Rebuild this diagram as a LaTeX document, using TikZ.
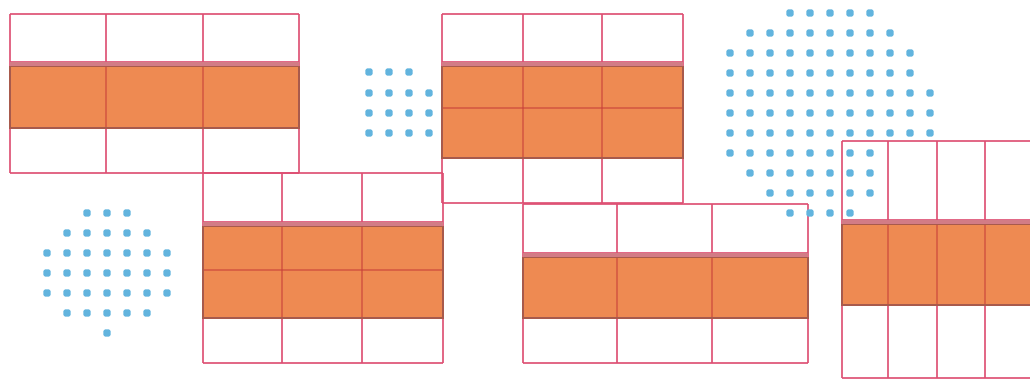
\documentclass[tikz,border=0pt]{standalone}
\definecolor{gridpink}{HTML}{DE4F72}
\definecolor{bandorange}{HTML}{EE8A52}
\definecolor{banddark}{HTML}{A85A4C}
\definecolor{shadepink}{HTML}{D27C86}
\definecolor{innerred}{HTML}{C8403A}
\definecolor{dotblue}{HTML}{62B4DE}
\tikzset{
  gridline/.style={draw=gridpink,line width=1.7pt,opacity=0.85},
  innerline/.style={draw=innerred,line width=1.5pt,opacity=0.55},
  bandfill/.style={fill=bandorange},
  bandedge/.style={draw=banddark,line width=1.4pt},
  bluedot/.style={fill=dotblue,rounded corners=1.5pt}
}
% #1 x-list, #2 left, #3 right, #4 top, #5 band line, #6 orange bottom, #7 bottom, #8 inner horizontal lines (y)
\newcommand{\gpanel}[8]{%
  \foreach \xx in {#1} \draw[gridline] (\xx,#4) -- (\xx,#7);
  \foreach \yy in {#4,#5,#7} \draw[gridline] (#2,\yy) -- (#3,\yy);
  \fill[shadepink] (#2,#5) rectangle (#3,#5+4.5);
  \fill[bandfill] (#2,#5+4.5) rectangle (#3,#6);
  \foreach \xx in {#1} \draw[innerline] (\xx,#5+4.5) -- (\xx,#6);
  \foreach \yy in {#8} \draw[innerline] (#2,\yy) -- (#3,\yy);
  \draw[bandedge] (#2,#5+4.5) rectangle (#3,#6);
}
\newcommand{\dotrow}[2]{% #1 y, #2 x-list
  \foreach \xx in {#2} \fill[bluedot] (\xx-3.6,#1-3.6) rectangle (\xx+3.6,#1+3.6);
}
\begin{document}
\begin{tikzpicture}[x=1pt,y=-1pt]
\useasboundingbox (0,0) rectangle (1030,383);
\fill[white] (0,0) rectangle (1030,383);
\clip (0,0) rectangle (1030,383);

% panel A (top left)
\gpanel{10,106,203,299}{10}{299}{14}{62}{128}{173}{128}
% panel B (top middle)
\gpanel{442,523,602,683}{442}{683}{14}{62}{158}{203}{108}
% panel C (lower left)
\gpanel{203,282,362,443}{203}{443}{173}{222}{318}{363}{270}
% panel D (lower middle)
\gpanel{523,617,712,808}{523}{808}{204}{253}{318}{363}{318}
% panel E (right)
\gpanel{842,888,937,985,1033}{842}{1034}{141}{220}{305}{378}{305}

% dot cluster near panel B
\dotrow{72}{369,389,409}
\foreach \yy in {93,113,133} {\dotrow{\yy}{369,389,409,429}}

% dot cluster lower left
\dotrow{213}{87,107,127}
\dotrow{233}{67,87,107,127,147}
\foreach \yy in {253,273,293} {\dotrow{\yy}{47,67,87,107,127,147,167}}
\dotrow{313}{67,87,107,127,147}
\dotrow{333}{107}

% large dot cluster top right
\dotrow{13}{790,810,830,850,870}
\dotrow{33}{750,770,790,810,830,850,870,890}
\foreach \yy in {53,73} {\dotrow{\yy}{730,750,770,790,810,830,850,870,890,910}}
\foreach \yy in {93,113,133} {\dotrow{\yy}{730,750,770,790,810,830,850,870,890,910,930}}
\dotrow{153}{730,750,770,790,810,830,850,870}
\dotrow{173}{750,770,790,810,830,850,870}
\dotrow{193}{770,790,810,830,850,870}
\dotrow{213}{790,810,830,850}
\end{tikzpicture}
\end{document}
